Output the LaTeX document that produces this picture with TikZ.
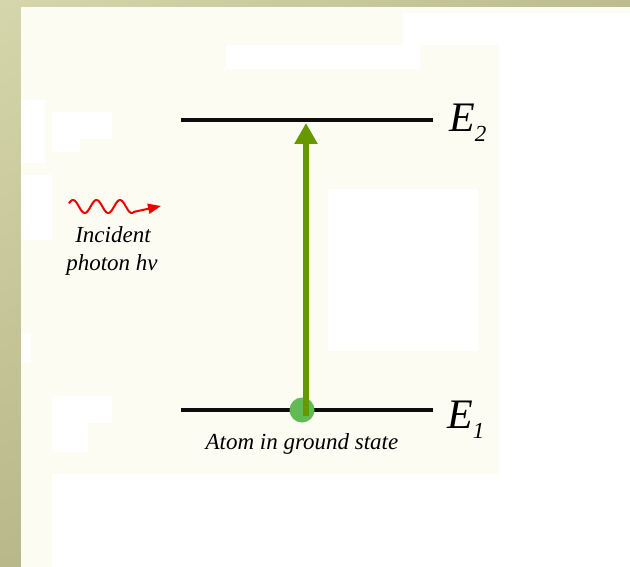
\documentclass[tikz,border=0pt]{standalone}
\usepackage{fontspec}
\setmainfont{Liberation Serif}
\usetikzlibrary{arrows.meta,shadings}
\definecolor{cream}{RGB}{252,252,242}
\definecolor{olA}{RGB}{214,214,172}
\definecolor{olB}{RGB}{188,188,144}
\definecolor{olC}{RGB}{184,184,138}
\definecolor{olD}{RGB}{176,176,130}
\definecolor{arrowgreen}{RGB}{102,153,0}
\definecolor{atomgreen}{RGB}{98,186,84}
\definecolor{wavered}{RGB}{240,0,0}
\tikzset{
  level/.style={line width=4pt, draw=black!95},
  blank/.style={fill=white, draw=none},
  lbl/.style={inner sep=0pt, font=\fontsize{23}{28}\selectfont\itshape},
  elbl/.style={inner sep=0pt, anchor=base west},
}
\newcommand{\Elab}[1]{{\fontsize{42}{42}\selectfont\itshape E}{\fontsize{23}{23}\selectfont\itshape\raisebox{-10pt}{#1}}}
\begin{document}
\begin{tikzpicture}[x=1pt,y=-1pt]
\useasboundingbox (0,0) rectangle (630,567);
% background
\shade[upper left=olA, upper right=olB, lower left=olC, lower right=olD] (0,0) rectangle (630,567);
\fill[cream] (21,7) rectangle (630,567);
% white patches
\fill[blank] (403,13) rectangle (630,45);
\fill[blank] (226,45) rectangle (420,69);
\fill[blank] (499,45) rectangle (630,567);
\fill[blank] (52,474) rectangle (630,567);
\fill[blank] (328,189) rectangle (478,351);
\fill[blank] (21,100) rectangle (45,163);
\fill[blank] (52,112) rectangle (112,139);
\fill[blank] (52,139) rectangle (80,152);
\fill[blank] (21,175) rectangle (52,240);
\fill[blank] (21,333) rectangle (31,363);
\fill[blank] (52,396) rectangle (112,423);
\fill[blank] (52,423) rectangle (88,452);
% energy levels
\coordinate (e2l) at (181,120.5);
\coordinate (e2r) at (433,120.5);
\coordinate (e1l) at (181,410);
\coordinate (e1r) at (433,410);
\draw[level] (e2l) -- (e2r);
\draw[level] (e1l) -- (e1r);
% atom
\node[circle, fill=atomgreen, minimum size=25pt, inner sep=0pt] (atom) at (302,410) {};
\coordinate (shaftbot) at (306,416);
\coordinate (shafttop) at (306,123);
\draw[arrowgreen, line width=6pt, -{Triangle[width=22pt,length=21pt]}] (shaftbot) -- (shafttop);
% labels
\node[elbl] (E2) at (449,132) {\Elab{2}};
\node[elbl] (E1) at (447,428) {\Elab{1}};
\node[lbl, anchor=base] (atomlbl) at (302,449) {Atom in ground state};
% incident photon
\coordinate (wavestart) at (69,206);
\coordinate (wavetip) at (161,206);
\draw[wavered, line width=2pt, line join=round, -{Triangle[width=10pt,length=13pt]}]
  plot[domain=69:134, samples=120] ({\x},{206.5-6.5*cos((\x-73)*15.3191)}) -- (wavetip);
\node[lbl, anchor=base] (inc1) at (113,243) {Incident};
\node[lbl, anchor=base] (inc2) at (112,271) {photon \textit{hν}};
\end{tikzpicture}
\end{document}
